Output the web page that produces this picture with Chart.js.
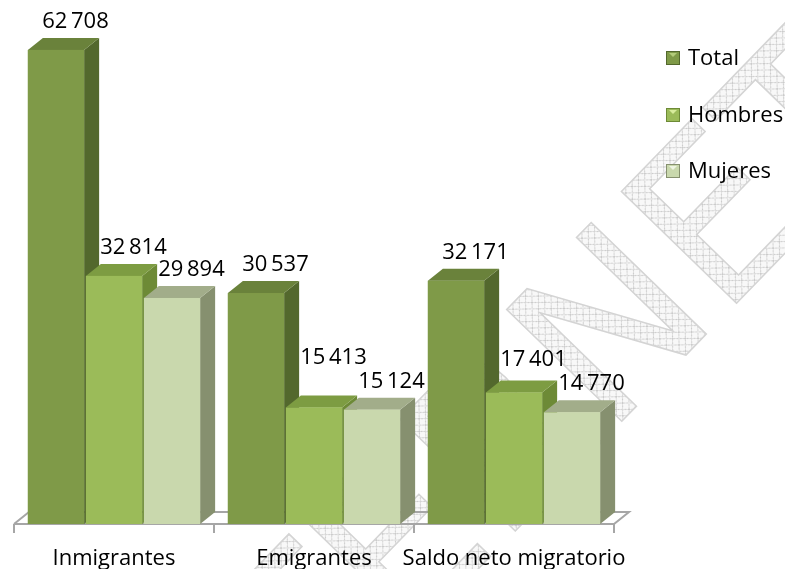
<!DOCTYPE html>
<html lang="es">
<head>
  <meta charset="UTF-8" />
  <title>Migración</title>
  <script src="https://cdn.jsdelivr.net/npm/chart.js"></script>
  <style>
    html, body { margin: 0; padding: 0; background: #fff; }
    #wrap { width: 785px; height: 569px; position: relative; }
  </style>
</head>
<body>
  <div id="wrap"><canvas id="migChart" width="785" height="569"></canvas></div>

  <script>
    const categorias = ['Inmigrantes', 'Emigrantes', 'Saldo neto migratorio'];
    const total   = [62708, 30537, 32171];
    const hombres = [32814, 15413, 17401];
    const mujeres = [29894, 15124, 14770];

    // front / side / top shades per series
    const tonos = [
      { front: '#7f9a48', side: '#53682d', top: '#6a823b', luz: '#b3cc7a' },
      { front: '#9bbb59', side: '#6d8a36', top: '#7d9c42', luz: '#d7ec9c' },
      { front: '#c9d8ad', side: '#86906f', top: '#a2ad8a', luz: '#eef4e2' }
    ];
    const DX = 15, DY = 12;
    const FAM = '"Open Sans", Lato, sans-serif';
    const FONT = '22px ' + FAM;

    const fmt = v => String(v).replace(/\B(?=(\d{3})+(?!\d))/g, '\u2009');

    function trama(ctx) {
      const c = document.createElement('canvas');
      c.width = 9; c.height = 9;
      const g = c.getContext('2d');
      g.fillStyle = '#f8f8f8';
      g.fillRect(0, 0, 9, 9);
      g.strokeStyle = '#cbcbcb';
      g.lineWidth = 1;
      g.beginPath();
      g.moveTo(0, 0); g.lineTo(9, 9);
      g.moveTo(9, 0); g.lineTo(0, 9);
      g.stroke();
      return ctx.createPattern(c, 'repeat');
    }

    const cubos = {
      id: 'cubos',
      beforeDraw(chart) {
        // watermark, under everything
        const { ctx } = chart;
        ctx.save();
        ctx.translate(490, 475);
        ctx.rotate(-0.8);
        ctx.font = '220px "DejaVu Sans", sans-serif';
        ctx.textAlign = 'center';
        ctx.textBaseline = 'middle';
        ctx.fillStyle = trama(ctx);
        ctx.strokeStyle = '#d4d4d4';
        ctx.lineWidth = 1.5;
        ctx.fillText('INTERNET', 0, 0);
        ctx.strokeText('INTERNET', 0, 0);
        ctx.restore();
      },
      beforeDatasetsDraw(chart) {
        const { ctx, chartArea: a } = chart;
        // floor
        ctx.save();
        ctx.strokeStyle = '#a6a6a6';
        ctx.lineWidth = 2;
        ctx.beginPath();
        ctx.moveTo(a.left, a.bottom);
        ctx.lineTo(a.left + DX, a.bottom - DY);
        ctx.lineTo(a.right + DX, a.bottom - DY);
        ctx.lineTo(a.right, a.bottom);
        ctx.lineTo(a.left, a.bottom);
        ctx.stroke();
        const n = categorias.length;
        ctx.beginPath();
        for (let i = 0; i <= n; i++) {
          const x = Math.round(a.left + (a.right - a.left) * i / n);
          ctx.moveTo(x, a.bottom);
          ctx.lineTo(x, a.bottom + 9);
        }
        ctx.stroke();
        ctx.restore();
      },
      afterDatasetsDraw(chart) {
        const { ctx } = chart;
        const barras = [];
        chart.data.datasets.forEach((ds, i) => {
          chart.getDatasetMeta(i).data.forEach((el, j) => {
            barras.push({ el, t: tonos[i], v: ds.data[j] });
          });
        });
        barras.sort((p, q) => p.el.x - q.el.x);
        ctx.save();
        barras.forEach(({ el, t }) => {
          const l = el.x - el.width / 2, r = el.x + el.width / 2;
          const y = el.y, b = el.base;
          ctx.fillStyle = t.side;
          ctx.beginPath();
          ctx.moveTo(r, y); ctx.lineTo(r + DX, y - DY);
          ctx.lineTo(r + DX, b - DY); ctx.lineTo(r, b);
          ctx.closePath(); ctx.fill();
          ctx.fillStyle = t.top;
          ctx.beginPath();
          ctx.moveTo(l, y); ctx.lineTo(l + DX, y - DY);
          ctx.lineTo(r + DX, y - DY); ctx.lineTo(r, y);
          ctx.closePath(); ctx.fill();
          ctx.fillStyle = t.front;
          ctx.fillRect(l, y, r - l, b - y);
        });

        // value labels, lifting the left one when two collide
        ctx.font = FONT;
        const rot = barras.map(({ el, v }) => {
          const txt = fmt(v);
          return { txt, x: el.x + DX / 2 + 12, y: el.y - DY - 10, w: ctx.measureText(txt).width };
        });
        for (let i = 1; i < rot.length; i++) {
          const p = rot[i - 1], q = rot[i];
          const solapa = Math.abs(p.x - q.x) < (p.w + q.w) / 2 && Math.abs(p.y - q.y) < 20;
          if (solapa) p.y = q.y - 24;
        }
        ctx.fillStyle = '#000';
        ctx.textAlign = 'center';
        ctx.textBaseline = 'alphabetic';
        rot.forEach(e => ctx.fillText(e.txt, e.x, e.y));
        ctx.restore();
      },
      afterDraw(chart) {
        const { ctx } = chart;
        const ys = [58, 115, 171];
        ctx.save();
        ctx.font = FONT;
        ctx.textBaseline = 'middle';
        chart.data.datasets.forEach((ds, i) => {
          const y = ys[i];
          const t = tonos[i];
          ctx.fillStyle = t.side;
          ctx.fillRect(666, y - 7, 14, 14);
          ctx.fillStyle = t.front;
          ctx.fillRect(667, y - 6, 12, 12);
          ctx.fillStyle = t.luz;
          ctx.beginPath();
          ctx.moveTo(669, y - 5); ctx.lineTo(677, y - 5); ctx.lineTo(673, y - 1);
          ctx.closePath(); ctx.fill();
          ctx.fillStyle = '#000';
          ctx.fillText(ds.label, 688, y + 1);
        });
        ctx.restore();
      }
    };

    new Chart(document.getElementById('migChart'), {
      type: 'bar',
      data: {
        labels: categorias,
        datasets: [
          { label: 'Total', data: total, backgroundColor: tonos[0].front },
          { label: 'Hombres', data: hombres, backgroundColor: tonos[1].front },
          { label: 'Mujeres', data: mujeres, backgroundColor: tonos[2].front }
        ]
      },
      plugins: [cubos],
      options: {
        responsive: false,
        animation: false,
        categoryPercentage: 0.87,
        barPercentage: 0.97,
        layout: { padding: { left: 14, right: 171, top: 25, bottom: 0 } },
        plugins: {
          legend: { display: false },
          tooltip: { enabled: false }
        },
        scales: {
          x: {
            grid: { display: false, drawTicks: false },
            border: { display: false },
            afterFit: s => { s.height = 45; },
            ticks: {
              color: '#000',
              font: { size: 22, family: FAM },
              padding: 22,
              maxRotation: 0,
              autoSkip: false
            }
          },
          y: { display: false, min: 0, max: 66000 }
        }
      }
    });
  </script>
</body>
</html>
